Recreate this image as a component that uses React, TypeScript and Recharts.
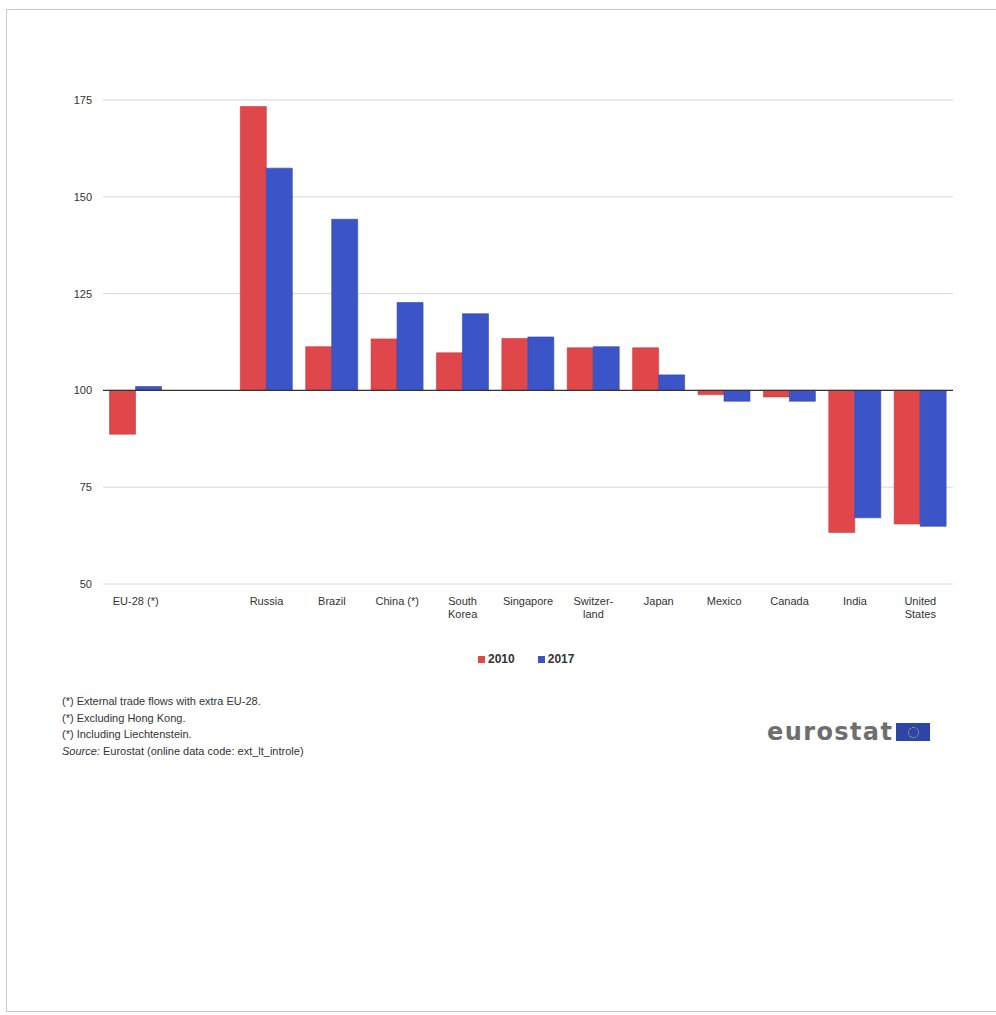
import { BarChart, Bar, XAxis, YAxis, CartesianGrid, ReferenceLine } from 'recharts'

const categories = ['EU-28 (*)', '', 'Russia', 'Brazil', 'China (*)', 'South\nKorea', 'Singapore', 'Switzer-\nland', 'Japan', 'Mexico', 'Canada', 'India', 'United\nStates']
const values2010 = [88.7, null, 173.3, 111.3, 113.3, 109.7, 113.4, 111.0, 111.0, 98.9, 98.3, 63.3, 65.5]
const values2017 = [101.0, null, 157.4, 144.2, 122.7, 119.8, 113.8, 111.3, 104.0, 97.2, 97.2, 67.1, 64.9]
const yTicks = [50, 75, 100, 125, 150, 175]
const seriesNames = ['2010', '2017']
const footnotes = [
  '(*) External trade flows with extra EU-28.',
  '(*) Excluding Hong Kong.',
  '(*) Including Liechtenstein.',
]

const RED = '#DF474B'
const BLUE = '#3B55C9'
const FONT = '"Liberation Sans", Arial, sans-serif'

// bars hang from the 100 baseline, so each one is a [100, value] range
const data = categories.map((name, i) => ({
  name,
  y2010: values2010[i] == null ? null : [100, values2010[i]],
  y2017: values2017[i] == null ? null : [100, values2017[i]],
}))

function CategoryTick({ x, y, payload }: any) {
  const lines = String(payload.value).split('\n')
  return (
    <text x={x} y={y} textAnchor="middle" fill="#333" fontSize={11} fontFamily={FONT}>
      {lines.map((l, i) => (
        <tspan key={i} x={x} dy={13}>{l}</tspan>
      ))}
    </text>
  )
}

export default function App() {
  return (
    <div style={{ position: 'absolute', left: 0, top: 0, width: 996, height: 1015, background: '#fff', overflow: 'hidden' }}>
      {/* frame */}
      <div style={{ position: 'absolute', left: 6, top: 9, width: 1000, height: 1003, border: '1px solid #c9c9d6', boxSizing: 'border-box' }} />

      <div style={{ position: 'absolute', left: 0, top: 0 }}>
        <BarChart
          width={996}
          height={640}
          data={data}
          margin={{ top: 100, right: 43, left: 0, bottom: 0 }}
          barCategoryGap="10%"
          barGap={0}
        >
          <CartesianGrid horizontal vertical={false} stroke="#d6d6e4" />
          <XAxis
            dataKey="name"
            type="category"
            interval={0}
            tickLine={false}
            axisLine={false}
            height={56}
            tick={<CategoryTick />}
          />
          <YAxis
            domain={[50, 175]}
            ticks={yTicks}
            width={103}
            tickLine={false}
            axisLine={false}
            tickMargin={5}
            tick={{ fontSize: 11, fill: '#333', fontFamily: FONT }}
          />
          <Bar dataKey="y2010" name={seriesNames[0]} fill={RED} stroke="#c23a3e" strokeWidth={0.6} isAnimationActive={false} />
          <Bar dataKey="y2017" name={seriesNames[1]} fill={BLUE} stroke="#2f46a8" strokeWidth={0.6} isAnimationActive={false} />
          <ReferenceLine y={100} stroke="#333" strokeWidth={1.2} />
        </BarChart>
      </div>

      {/* legend */}
      <div style={{ position: 'absolute', left: 478, top: 652, display: 'flex', gap: 23, fontFamily: FONT, fontSize: 12, fontWeight: 'bold', color: '#333' }}>
        {seriesNames.map((label, i) => (
          <span key={label} style={{ display: 'flex', alignItems: 'center' }}>
            <span style={{ width: 7, height: 7, background: i === 0 ? RED : BLUE, marginRight: 3, display: 'inline-block' }} />
            {label}
          </span>
        ))}
      </div>

      {/* footnotes */}
      <div style={{ position: 'absolute', left: 62, top: 693, fontFamily: FONT, fontSize: 11, color: '#333', lineHeight: '16.7px' }}>
        {footnotes.map(f => <div key={f}>{f}</div>)}
        <div><i>Source:</i> Eurostat (online data code: ext_lt_introle)</div>
      </div>

      {/* eurostat logo */}
      <div style={{ position: 'absolute', left: 767, top: 718, display: 'flex', alignItems: 'center' }}>
        <span style={{ fontFamily: '"DejaVu Sans", sans-serif', fontSize: 24, fontWeight: 'bold', color: '#6e6e6e', letterSpacing: 1.4 }}>eurostat</span>
        <span style={{ marginLeft: 3, width: 34, height: 18, background: '#2d45a6', display: 'flex', alignItems: 'center', justifyContent: 'center' }}>
          <span style={{ width: 9, height: 9, borderRadius: '50%', border: '1.5px dotted #d9c84a' }} />
        </span>
      </div>
    </div>
  )
}
